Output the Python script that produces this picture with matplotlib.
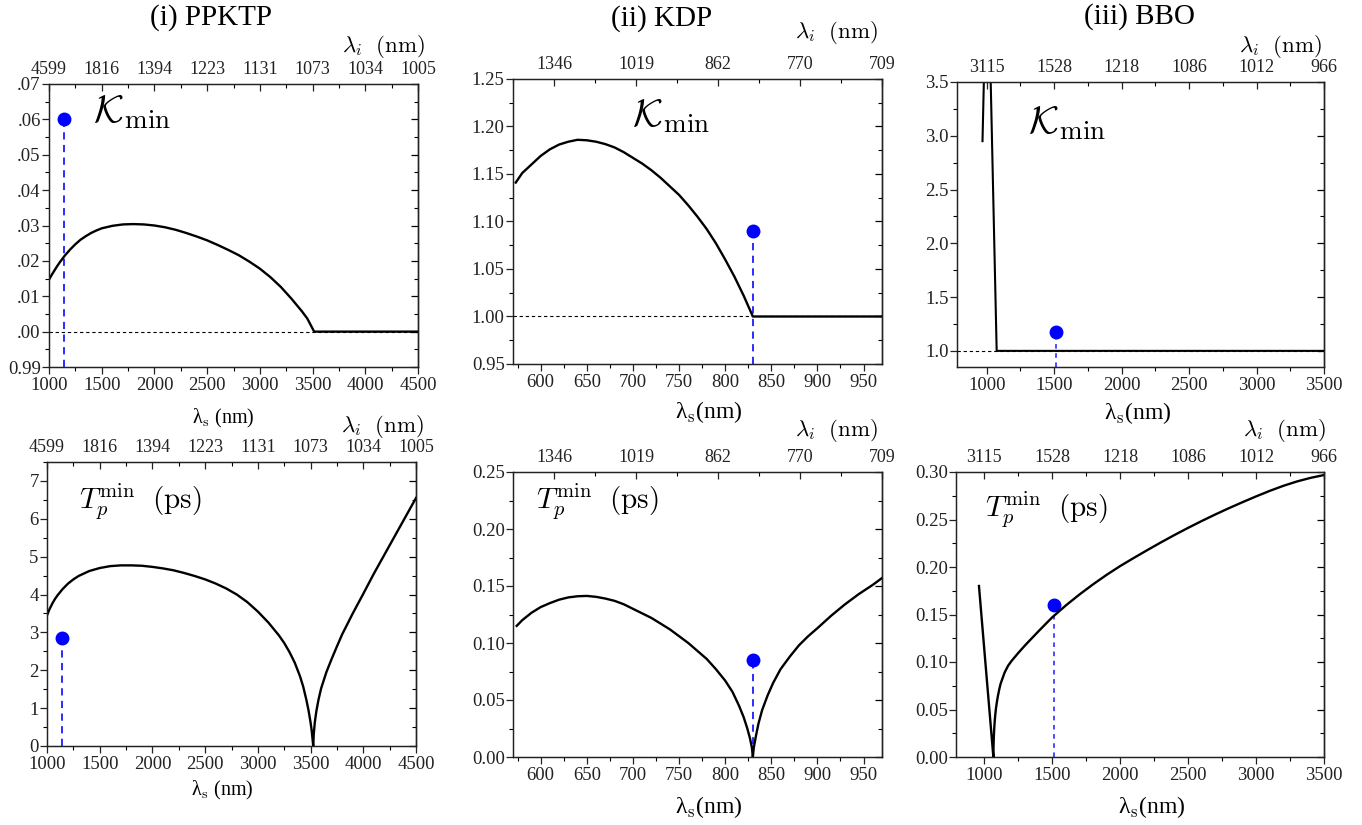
import matplotlib
matplotlib.use('Agg')
import matplotlib.pyplot as plt
from matplotlib.ticker import MultipleLocator

plt.rcParams['font.family'] = ['Liberation Serif', 'DejaVu Serif']
plt.rcParams['mathtext.fontset'] = 'cm'

W, H = 1362, 825

# ---------------- (i) PPKTP ----------------
ppktp_k_x = [1000, 1025, 1050, 1075, 1100, 1150, 1200, 1250, 1300, 1350, 1400, 1450, 1500,
             1600, 1700, 1800, 1900, 2000, 2100, 2200, 2300, 2400, 2500, 2600, 2700, 2800,
             2900, 3000, 3100, 3200, 3300, 3400, 3450, 3515, 4500]
ppktp_k_y = [1.0147, 1.0160, 1.0172, 1.0184, 1.0195, 1.0215, 1.0232, 1.0247, 1.0260, 1.0270,
             1.0279, 1.0286, 1.0292, 1.0299, 1.0303, 1.0304, 1.0303, 1.0300, 1.0295, 1.0288,
             1.0279, 1.0269, 1.0258, 1.0245, 1.0231, 1.0216, 1.0198, 1.0178, 1.0154, 1.0126,
             1.0093, 1.0057, 1.0037, 1.0000, 1.0000]
ppktp_t_x = [1000, 1025, 1050, 1075, 1100, 1150, 1200, 1250, 1300, 1400, 1500, 1600, 1700,
             1800, 1900, 2000, 2100, 2200, 2300, 2400, 2500, 2600, 2700, 2800, 2900, 3000,
             3100, 3200, 3250, 3300, 3350, 3400, 3430, 3460, 3480, 3500, 3510, 3520, 3525,
             3530, 3540, 3555, 3575, 3600, 3650, 3700, 3750, 3800, 3900, 4000, 4100, 4200,
             4300, 4400, 4500]
ppktp_t_y = [3.45, 3.62, 3.76, 3.88, 3.98, 4.15, 4.29, 4.40, 4.49, 4.62, 4.70, 4.75, 4.77,
             4.77, 4.76, 4.73, 4.69, 4.64, 4.57, 4.49, 4.40, 4.29, 4.16, 4.00, 3.80, 3.55,
             3.26, 2.92, 2.72, 2.48, 2.20, 1.84, 1.57, 1.22, 0.95, 0.62, 0.42, 0.15, 0.0,
             0.30, 0.62, 0.92, 1.22, 1.52, 1.95, 2.30, 2.63, 2.95, 3.50, 4.02, 4.55, 5.05,
             5.55, 6.05, 6.55]
ppktp_ticks = [1000, 1500, 2000, 2500, 3000, 3500, 4000, 4500]
ppktp_idler = ['4599', '1816', '1394', '1223', '1131', '1073', '1034', '1005']
ppktp_k_ticks = [0.99, 1.00, 1.01, 1.02, 1.03, 1.04, 1.05, 1.06, 1.07]
ppktp_k_labels = ['0.99', '.00', '.01', '.02', '.03', '.04', '.05', '.06', '.07']
ppktp_t_ticks = [0, 1, 2, 3, 4, 5, 6, 7]
ppktp_dot_x = 1142
ppktp_k_dot = 1.06
ppktp_t_dot = 2.84

# ---------------- (ii) KDP ----------------
kdp_k_x = [573, 580, 590, 600, 610, 620, 630, 640, 650, 660, 670, 680, 690, 700, 710, 720,
           730, 740, 750, 760, 770, 780, 790, 800, 810, 820, 830, 970]
kdp_k_y = [1.141, 1.151, 1.160, 1.169, 1.176, 1.181, 1.184, 1.186, 1.1855, 1.184, 1.1815,
           1.178, 1.173, 1.167, 1.161, 1.154, 1.146, 1.137, 1.128, 1.117, 1.105, 1.092, 1.077,
           1.060, 1.042, 1.022, 1.000, 1.000]
kdp_t_x = [574, 580, 590, 600, 610, 620, 630, 640, 650, 660, 670, 680, 690, 700, 710, 720,
           730, 740, 750, 760, 770, 780, 790, 800, 808, 815, 820, 824, 827, 829, 830, 831,
           833, 836, 840, 846, 852, 860, 870, 880, 890, 900, 915, 930, 945, 960, 970]
kdp_t_y = [0.115, 0.120, 0.1265, 0.1315, 0.135, 0.138, 0.140, 0.141, 0.1413, 0.1405, 0.139,
           0.137, 0.134, 0.130, 0.126, 0.122, 0.117, 0.112, 0.106, 0.100, 0.093, 0.086, 0.077,
           0.067, 0.057, 0.045, 0.035, 0.025, 0.016, 0.008, 0.0, 0.008, 0.017, 0.029, 0.041,
           0.054, 0.065, 0.077, 0.088, 0.098, 0.106, 0.113, 0.124, 0.134, 0.143, 0.151, 0.157]
kdp_ticks = [600, 650, 700, 750, 800, 850, 900, 950]
kdp_top_ticks = [600, 700, 800, 900, 1000]
kdp_idler = ['1346', '1019', '862', '770', '709']
kdp_k_ticks = [0.95, 1.00, 1.05, 1.10, 1.15, 1.20, 1.25]
kdp_t_ticks = [0.0, 0.05, 0.10, 0.15, 0.20, 0.25]
kdp_dot_x = 830
kdp_k_dot = 1.09
kdp_t_dot = 0.085

# ---------------- (iii) BBO ----------------
bbo_k_x = [969, 988, 1021, 1074, 3500]
bbo_k_y = [2.95, 4.0, 4.0, 1.0, 1.0]
bbo_t_x = [961, 1015, 1067, 1068, 1070, 1073, 1076, 1080, 1086, 1093, 1100, 1110, 1120, 1135,
           1150, 1175, 1200, 1250, 1300, 1350, 1400, 1450, 1500, 1600, 1700, 1800, 1900,
           2000, 2100, 2200, 2300, 2400, 2500, 2600, 2700, 2800, 2900, 3000, 3100, 3200,
           3300, 3400, 3500]
bbo_t_y = [0.180, 0.088, 0.0, 0.010, 0.020, 0.029, 0.036, 0.043, 0.051, 0.058, 0.064, 0.071,
           0.077, 0.083, 0.089, 0.096, 0.101, 0.1095, 0.1175, 0.125, 0.1325, 0.1398, 0.147,
           0.1595, 0.171, 0.1817, 0.1917, 0.201, 0.2095, 0.2178, 0.2259, 0.2337, 0.2412,
           0.2484, 0.2553, 0.2619, 0.2682, 0.2743, 0.2801, 0.2854, 0.2900, 0.2938, 0.2968]
bbo_ticks = [1000, 1500, 2000, 2500, 3000, 3500]
bbo_idler = ['3115', '1528', '1218', '1086', '1012', '966']
bbo_k_ticks = [1.0, 1.5, 2.0, 2.5, 3.0, 3.5]
bbo_t_ticks = [0.0, 0.05, 0.10, 0.15, 0.20, 0.25, 0.30]
bbo_dot_x = 1514
bbo_k_dot = 1.18
bbo_t_dot = 0.16

fig = plt.figure(figsize=(W / 100, H / 100), dpi=100)


def box(l, t, r, b):
    return [l / W, 1 - b / H, (r - l) / W, (b - t) / H]


def ftext(x, y, s, **kw):
    fig.text(x / W, 1 - y / H, s, **kw)


def setup(rect, xlim, ylim, xticks, xminor, yticks, yminor, top_xlim, top_ticks, top_labels,
          top_minor, ylabels=None, yfmt='%.2f'):
    ax = fig.add_axes(box(*rect))
    ax.set_xlim(*xlim)
    ax.set_ylim(*ylim)
    ax.set_xticks(xticks)
    ax.xaxis.set_minor_locator(MultipleLocator(xminor))
    ax.set_yticks(yticks)
    if ylabels is None:
        ylabels = [yfmt % v for v in yticks]
    ax.set_yticklabels(ylabels)
    ax.yaxis.set_minor_locator(MultipleLocator(yminor))
    ax.tick_params(axis='both', which='major', direction='out', length=5, width=0.9,
                   labelsize=13.5, colors='#222222')
    ax.tick_params(axis='both', which='minor', direction='out', length=3, width=0.8)
    ax.tick_params(axis='x', pad=2)
    ax.tick_params(axis='y', pad=1)
    for sp in ax.spines.values():
        sp.set_linewidth(0.9)
        sp.set_color('#222222')

    # right spine: inward ticks, no labels
    right = ax.secondary_yaxis('right')
    right.set_yticks(yticks)
    right.yaxis.set_minor_locator(MultipleLocator(yminor))
    right.tick_params(which='major', direction='in', length=5, width=0.9, labelright=False)
    right.tick_params(which='minor', direction='in', length=3, width=0.8)
    right.spines['right'].set_linewidth(0.9)

    # top axis: idler wavelength
    top = ax.twiny()
    top.set_xlim(*top_xlim)
    top.set_xticks(top_ticks)
    top.set_xticklabels(top_labels)
    top.xaxis.set_minor_locator(MultipleLocator(top_minor))
    top.tick_params(which='major', direction='in', length=5, width=0.9, labelsize=13,
                    pad=4, colors='#222222')
    top.tick_params(which='minor', direction='in', length=3, width=0.8)
    for sp in top.spines.values():
        sp.set_linewidth(0.9)
        sp.set_color('#222222')
    return ax


def marker(ax, x, y, dash, lw=1.3):
    y0 = ax.get_ylim()[0]
    ax.plot([x, x], [y0, y], color='#1a1aff', lw=lw, dashes=dash, zorder=3)
    ax.plot([x], [y], 'o', color='#0000ff', ms=9, zorder=4, clip_on=False)


curve = dict(color='black', lw=1.7, zorder=5)
zero = dict(color='black', lw=0.8, dashes=(3, 2.5), zorder=2)

# (i) PPKTP, K_min
ax = setup((49, 84, 418, 367), (1000, 4500), (0.99, 1.07), ppktp_ticks, 250, ppktp_k_ticks,
           0.005, (1000, 4500), ppktp_ticks, ppktp_idler, 250, ylabels=ppktp_k_labels)
ax.axhline(1.0, **zero)
marker(ax, ppktp_dot_x, ppktp_k_dot, (4, 3))
ax.plot(ppktp_k_x, ppktp_k_y, **curve)

# (i) PPKTP, T_p
ax = setup((47, 462, 416, 746), (1000, 4500), (0, 7.5), ppktp_ticks, 250, ppktp_t_ticks,
           0.5, (1000, 4500), ppktp_ticks, ppktp_idler, 250, yfmt='%d')
marker(ax, ppktp_dot_x, ppktp_t_dot, (4, 3))
ax.plot(ppktp_t_x, ppktp_t_y, **curve)

# (ii) KDP, K_min
ax = setup((513, 79, 882, 364), (570, 970), (0.95, 1.25), kdp_ticks, 25, kdp_k_ticks, 0.025,
           (550, 1000), kdp_top_ticks, kdp_idler, 50)
ax.axhline(1.0, **zero)
marker(ax, kdp_dot_x, kdp_k_dot, (4, 3))
ax.plot(kdp_k_x, kdp_k_y, **curve)

# (ii) KDP, T_p
ax = setup((513, 472, 882, 757), (570, 970), (0, 0.25), kdp_ticks, 25, kdp_t_ticks, 0.025,
           (550, 1000), kdp_top_ticks, kdp_idler, 50)
marker(ax, kdp_dot_x, kdp_t_dot, (4, 3))
ax.plot(kdp_t_x, kdp_t_y, **curve)

# (iii) BBO, K_min
ax = setup((957, 82, 1324, 367), (780, 3500), (0.85, 3.5), bbo_ticks, 250, bbo_k_ticks, 0.25,
           (780, 3500), bbo_ticks, bbo_idler, 250, yfmt='%.1f')
ax.axhline(1.0, **zero)
marker(ax, bbo_dot_x, bbo_k_dot, (3, 3), lw=1.1)
ax.plot(bbo_k_x, bbo_k_y, color='black', lw=1.5, zorder=5)

# (iii) BBO, T_p
ax = setup((956, 472, 1324, 757), (792, 3500), (0, 0.30), bbo_ticks, 250, bbo_t_ticks, 0.025,
           (792, 3500), bbo_ticks, bbo_idler, 250)
marker(ax, bbo_dot_x, bbo_t_dot, (3, 3), lw=1.1)
ax.plot(bbo_t_x, bbo_t_y, **curve)

# titles and labels
for x, y, s in [(211, 18, '(i) PPKTP'), (662, 19, '(ii) KDP'), (1139, 17, '(iii) BBO')]:
    ftext(x, y, s, fontsize=21, ha='center', va='center')

for x, y in [(425, 47), (424, 427), (878, 32), (878, 430), (1322, 46), (1326, 430)]:
    ftext(x, y, r'$\lambda_i\ \ (\mathrm{nm})$', fontsize=16.5, ha='right', va='center')

lam_s = 'λ$_\\mathrm{s}$ (nm)'
lam_s2 = 'λ$_\\mathrm{s}$(nm)'
for x, y, s, fs in [(223, 418, lam_s, 14.5), (222, 790, lam_s, 14.5),
                    (709, 412, lam_s2, 17), (709, 807, lam_s2, 17),
                    (1138, 413, lam_s2, 17), (1152, 807, lam_s2, 17)]:
    ftext(x, y, s, fontsize=fs, ha='center', va='center')

for x, y in [(93, 113), (632, 117), (1028, 124)]:
    ftext(x, y, r'$\mathcal{K}_{\mathrm{min}}$', fontsize=28, ha='left', va='center')

for x, y in [(79, 502), (536, 502), (985, 510)]:
    ftext(x, y, r'$T_p^{\mathrm{min}}\ \ (\mathrm{ps})$', fontsize=21, ha='left', va='center')

fig.savefig('out.png', dpi=100)
